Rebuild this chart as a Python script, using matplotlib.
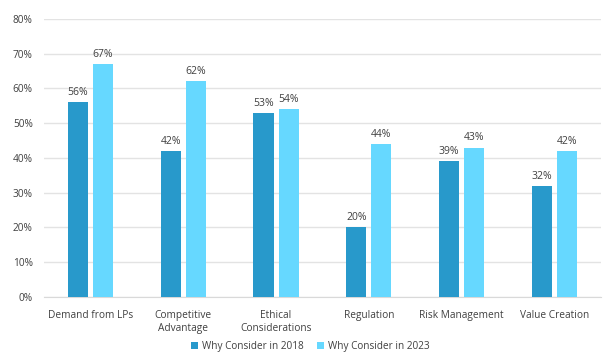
import matplotlib
matplotlib.use("Agg")
import matplotlib.pyplot as plt
import numpy as np

categories = ["Demand from LPs", "Competitive\nAdvantage", "Ethical\nConsiderations",
              "Regulation", "Risk Management", "Value Creation"]
values_2018 = [56, 42, 53, 20, 39, 32]
values_2023 = [67, 62, 54, 44, 43, 42]
series_names = ["Why Consider in 2018", "Why Consider in 2023"]

dark_blue = "#2899CB"
light_blue = "#66D8FF"
text_color = "#404040"

plt.rcParams['font.family'] = ['Open Sans', 'DejaVu Sans']

fig = plt.figure(figsize=(6.09, 3.57), dpi=100)
ax = fig.add_axes([0.072, 0.168, 0.915, 0.779])

x = np.arange(len(categories))
w = 0.216
off = 0.135
b1 = ax.bar(x - off, values_2018, w, color=dark_blue, label=series_names[0], zorder=3)
b2 = ax.bar(x + off, values_2023, w, color=light_blue, label=series_names[1], zorder=3)

for bars in (b1, b2):
    for rect in bars:
        h = rect.get_height()
        ax.text(rect.get_x() + rect.get_width() / 2, h + 1.2, f"{h:.0f}%",
                ha="center", va="bottom", fontsize=7.5, color=text_color)

ax.set_xlim(-0.5, len(categories) - 0.5)
ax.set_ylim(0, 80)
ax.set_yticks(range(0, 81, 10))
ax.set_yticklabels([f"{v}%" for v in range(0, 81, 10)])
ax.set_xticks(x)
ax.set_xticklabels(categories, linespacing=1.25)
ax.tick_params(axis="both", length=0, labelsize=7.3, colors=text_color)
ax.tick_params(axis="x", pad=9)
ax.tick_params(axis="y", pad=8)
ax.grid(axis="y", color="#E3E3E3", linewidth=1, zorder=0)
for s in ["top", "right", "left"]:
    ax.spines[s].set_visible(False)
ax.spines["bottom"].set_color("#D9D9D9")

fig.legend(loc="lower center", bbox_to_anchor=(0.51, -0.012), ncol=2, frameon=False,
           fontsize=7.2, handlelength=0.7, handleheight=0.7, handletextpad=0.4,
           columnspacing=1.3, labelcolor=text_color)

fig.savefig("out.png", dpi=100)
